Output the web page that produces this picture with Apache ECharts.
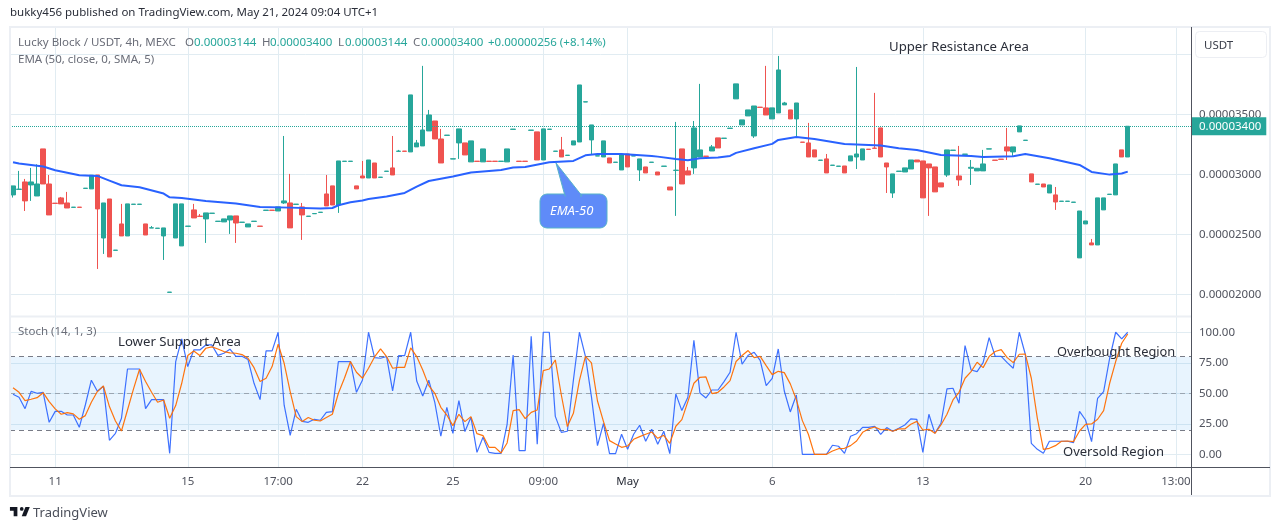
<!DOCTYPE html>
<html lang="en">
<head>
<meta charset="UTF-8">
<title>Lucky Block / USDT</title>
<script src="https://cdn.jsdelivr.net/npm/echarts@6/dist/echarts.min.js"></script>
<style>
	html, body { margin: 0; padding: 0; background: #fff; }
	#chart { width: 1281px; height: 530px; }
</style>
</head>
<body>
<div id="chart"></div>
<script type="text/javascript">
// prices are in units of 0.00000001 USDT
var opens = [
	2828,2874,2936,2911,2819,3211,2919,2759,2803,2761, 2724,2726,2882,2878,2994,2469,2794,2366,2586,2486,
	2749,2749,2586,2552,2549,2486,2016,2469,2403,2566, 2703,2651,2628,2674,2607,2603,2619,2653,2599,2561,
	2607,2568,2699,2701,2694,2761,2761,2749,2728,2649, 2671,2682,2836,2903,2744,3107,3107,2903,2986,2969,
	3094,2974,3024,3053,3191,3193,3186,3228,3236,3361, 3444,3294,3324,3127,3261,3261,3103,3109,3103,3109,
	3109,3107,3103,3374,3109,3109,3366,3353,3119,3374, 3191,3203,3157,3244,3269,3602,3286,3152,3144,3136,
	3099,3036,3169,3152,3036,3061,3099,3019,3066,2894, 3032,3211,3028,3053,3144,3151,3194,3303,3299,3382,
	3628,3411,3486,3319,3559,3553,3461,3511,3578,3536, 3461,3268,3261,3203,3116,3128,3074,3066,3069,3111,
	3144,3119,3209,3218,3386,3094,2844,3024,3019,3044, 3119,3111,3086,3061,2928,2994,3199,2986,3166,3050,
	3028,3028,3210,3118,3126,3228,3186,3353,3282,3003, 2916,2919,2844,2828,2774,2774,2766,2303,2586,2428,
	2411,2703,2832,2828,3203,3144
];
var closes = [
	2903,2876,2778,2936,2919,2919,2661,2757,2753,2719, 2726,2724,2884,2992,2711,2761,2311,2368,2486,2753,
	2751,2751,2494,2554,2551,2553,2018,2753,2753,2568, 2636,2649,2678,2676,2609,2628,2653,2594,2601,2586,
	2609,2566,2701,2699,2728,2778,2553,2751,2661,2651, 2673,2684,2736,2744,3111,3109,3109,2878,2969,3119,
	2969,2976,3026,2994,3193,3191,3661,3261,3369,3494, 3294,3094,3326,3129,3378,3161,3278,3107,3211,3107,
	3107,3109,3211,3376,3107,3107,3368,3119,3378,3376, 3193,3144,3159,3278,3744,3604,3411,3154,3278,3094,
	3101,3161,3061,3154,3128,3011,3101,2994,3068,2869, 3034,2919,2994,3386,3203,3149,3228,3219,3301,3384,
	3753,3453,3536,3569,3557,3494,3553,3869,3594,3461, 3594,3266,3144,3144,3118,3011,3076,3068,3011,3153,
	3169,3211,3207,3216,3144,3061,3003,3026,3053,3119, 3103,2803,3053,2853,2894,3203,3201,2953,3168,3058,
	3050,3086,3212,3116,3124,3194,3228,3403,3284,2936, 2918,2894,2911,2769,2776,2776,2768,2694,2611,2411,
	2803,2803,2834,3086,3144,3400
];
var lows = [
	2806,2874,2694,2778,2819,2919,2661,2757,2753,2719, 2724,2724,2882,2878,2211,2336,2311,2366,2486,2486,
	2749,2749,2494,2552,2549,2286,2016,2469,2403,2566, 2636,2649,2428,2674,2607,2603,2503,2428,2599,2561,
	2607,2566,2699,2699,2694,2753,2553,2749,2453,2649, 2671,2682,2736,2744,2678,3107,3107,2878,2969,2969,
	2969,2974,3024,2994,3191,3191,3186,3228,3236,3361, 3294,3094,3324,3127,3128,3161,3103,3107,3103,3107,
	3107,3107,3103,3374,3107,3107,3366,3119,3119,3374, 3191,3144,3157,3244,3269,3602,3161,3152,3144,3094,
	3099,3036,3061,3152,2944,3011,3099,2994,3066,2869, 2653,2919,2994,3003,3144,3149,3194,3219,3299,3382,
	3628,3411,3486,3303,3557,3494,3461,3511,3578,3461, 3311,3266,3144,3144,3116,3011,3074,3066,3011,3111,
	3044,3119,3207,3216,3144,2844,2803,3024,3019,3044, 3103,2803,2653,2853,2894,2978,3199,2903,3166,2911,
	3028,3028,3210,3116,3124,3119,3153,3353,3282,2936, 2916,2894,2844,2703,2774,2774,2766,2303,2586,2411,
	2411,2703,2832,2828,3144,3144
];
var highs = [
	2903,3028,2961,3053,3083,3211,2994,2759,2811,2853, 2726,2726,2884,2992,2994,2761,2794,2368,2753,2753,
	2751,2751,2586,2569,2551,2553,2018,2753,2753,2568, 2753,2669,2678,2676,2609,2628,2653,2653,2601,2586,
	2609,2568,2701,2701,2728,3319,3003,2751,2761,2651, 2673,2684,2994,2903,3111,3109,3109,2903,3111,3119,
	3094,2976,3026,3319,3203,3193,3661,3286,3903,3536, 3444,3378,3326,3129,3378,3261,3278,3109,3211,3109,
	3109,3109,3211,3376,3109,3109,3368,3353,3378,3376, 3193,3311,3159,3278,3744,3604,3411,3154,3278,3136,
	3101,3161,3169,3154,3128,3061,3101,3019,3068,2894, 3436,3211,3061,3444,3753,3151,3244,3303,3301,3384,
	3753,3453,3536,3569,3559,3903,3553,3986,3603,3536, 3594,3268,3428,3203,3118,3169,3076,3068,3069,3153,
	3894,3211,3209,3678,3386,3094,3003,3026,3053,3119, 3119,3111,3086,3061,2928,3203,3201,3236,3168,3119,
	3050,3203,3212,3118,3126,3386,3228,3403,3284,3003, 2918,2919,2911,2894,2776,2776,2768,2694,2611,2461,
	2803,2803,2834,3086,3203,3400
];
var emaIndex = [0,1,3,5,7,11,14,16,18,21,25,26,28,32,37,41,46,51,53,54,56,58,59,62,65,67,69,73,76,81,83,85,89,93,95,97,101,106,107,110,112,114,117,119,120,123,126,127,130,133,138,144,147,150,154,159,161,166,168,172,177,179,182,184,185];
var emaValues = [3100,3089,3078,3064,3033,2992,2986,2947,2908,2892,2839,2808,2803,2778,2756,2728,2722,2714,2719,2742,2767,2781,2794,2814,2844,2897,2944,2981,3014,3036,3056,3061,3100,3111,3158,3169,3169,3153,3147,3128,3117,3133,3139,3153,3178,3217,3253,3286,3311,3294,3253,3239,3217,3203,3161,3153,3144,3150,3169,3133,3078,3019,2997,3006,3022];
var stochK = [
	49.2,46.7,37.4,51.6,50,50.8,26.2,35.2,35.2,32.2, 32.2,22.1,40.4,60.7,51.6,55.7,11.5,17.2,29.5,69.9,
	69.9,69.9,37.4,44.8,44.8,44.8,0.8,76,94.5,71.9, 85.5,85.5,89.6,89.6,81.1,82.8,86.1,80.3,80.3,77.6,
	58.2,44.8,84.7,84.7,100,40.2,15.6,36.9,27,26.2, 28.7,27.9,34.4,35,76,76,76,50.8,60.9,100,
	79.2,78.7,80.1,51.9,80.9,80.9,100,60.1,47.8,60.7, 42.6,14.8,38.5,17.2,44,18.6,30.3,1.6,13.9,1.6,
	0.8,0.8,24.6,81.4,3,3,96.7,8.2,100,100, 31.1,18,18.9,60.7,100,80.3,47,7.1,25.4,0.5,
	0.5,16.4,4.1,16.4,23.8,10.7,20.5,8.2,18.9,0.5, 49.5,35.8,46.7,93.4,50.3,46.2,52.7,52.7,59.6,67.2,
	100,73.8,81.1,83.6,77,56.3,62.3,86.3,51.9,34.7, 48.6,0,0,0,0,0,7.4,6.6,0.8,14.8,
	16.9,22.1,22.1,23,16.4,21.9,18.9,21.3,24,29, 28.7,1.6,32.8,17.2,25.4,53.6,54.1,41.8,89.1,69.1,
	67.8,75.1,95.6,80.3,80.3,75.1,70.5,100,82,9, 4.1,0.8,10.7,10.7,10.7,10.7,9.6,35.2,28.1,10.4,
	45.9,51.4,78.7,100,94.5,100
];
var stochD = [
	54.6,50.8,44,45.1,46.4,50.5,43.2,37.2,32.8,34.2, 33.1,28.7,31.7,42.6,51.4,56,39.1,27.3,19.1,36.3,
	53.6,69.7,59.6,50.8,42.6,44.5,29.5,39.9,58.2,80.9, 84.7,80.9,86.9,88,86.3,84.2,83.1,82.8,81.7,78.7,
	71,59.6,62.3,71.9,90.2,74.6,51.4,30.9,26.8,30.1, 27.9,27.3,30.1,32.8,50,62.3,76,67.2,62.3,70.5,
	79.8,86.3,80.1,70.5,71.3,71.3,87.2,80.1,69.1,56.3, 50,38.5,32.2,23.5,32.8,26.8,30.9,16.9,15.3,5.7,
	5.7,1.1,9.3,35.8,36.6,29.2,34.4,36.3,68.6,69.9, 77.3,48.6,22.7,33.6,60.4,80.3,74.9,43.7,26.8,11.2,
	8.5,5.7,6.8,12.3,14.5,16.4,18.3,13.1,15.6,9, 23,28.4,43.2,58.2,63.1,63.4,49.7,50.8,55.2,60.4,
	76,80.9,85,79.2,80.3,72.7,65.3,68,66.9,57.7, 44.8,27.6,16.4,0,0,0,2.7,4.6,4.9,7.1,
	10.9,18,20.8,22.4,20.2,20.5,18.9,20.8,20.8,24.6, 27,19.9,20.5,17.2,24,32.8,44.5,50.8,62.3,67.8,
	75.4,71,80.1,84.2,85.8,79.2,75.1,82,82.2,62.3, 29.5,4.1,4.9,7.1,10.7,10.9,10.4,19.1,24.6,24.9,
	28.7,35.8,58.2,76,91,98.6
];
var timeTicks = ['11', '15', '17:00', '22', '25', '09:00', 'May', '6', '13', '20', '13:00'];
var timeTickIndex = [7, 29, 44, 58, 73, 88, 102, 126, 151, 178, 193];
var priceTicks = [2000, 2500, 3000, 3500, 4000];
var stochTicks = [0, 25, 50, 75, 100];
var stochLevels = [80, 50, 20];
var lastPrice = 3400;
var barSlots = 196;

var UP = '#26a69a', DOWN = '#ef5350', GRID = '#e1ecf2', FRAME = '#eceff4', AXIS = '#50535e';
var FONT = '"Noto Sans", sans-serif';

var categories = [];
for (var i = 0; i < barSlots; i++) {
	categories.push(String(i));
}
var candles = [];
for (var j = 0; j < opens.length; j++) {
	candles.push([opens[j], closes[j], lows[j], highs[j]]);
}
var emaData = [];
for (var e = 0; e < emaIndex.length; e++) {
	emaData.push([emaIndex[e], emaValues[e]]);
}

function isTimeTick(idx) {
	return timeTickIndex.indexOf(idx) >= 0;
}
function priceLabel(v) {
	return (v / 1e8).toFixed(8);
}

var xAxisBase = {
	type: 'category',
	data: categories,
	axisLine: { show: false },
	axisTick: { show: false },
	splitLine: { show: true, alignWithLabel: true, interval: isTimeTick, lineStyle: { color: GRID, width: 1 } }
};

// legend row above the candles
var headerItems = [
	{ text: 'Lucky Block / USDT, 4h, MEXC', x: 18, color: '#6a6d78' },
	{ text: 'O', x: 185, color: '#6a6d78' }, { text: '0.00003144', x: 194, color: UP },
	{ text: 'H', x: 262, color: '#6a6d78' }, { text: '0.00003400', x: 270, color: UP },
	{ text: 'L', x: 338, color: '#6a6d78' }, { text: '0.00003144', x: 345, color: UP },
	{ text: 'C', x: 413, color: '#6a6d78' }, { text: '0.00003400', x: 421, color: UP },
	{ text: '+0.00000256 (+8.14%)', x: 488, color: UP }
];
var graphics = [];
function addText(text, x, y, size, color, extra) {
	var style = { text: text, x: x, y: y, fill: color, font: size + 'px ' + FONT, textVerticalAlign: 'middle' };
	for (var k in (extra || {})) {
		style[k] = extra[k];
	}
	graphics.push({ type: 'text', silent: true, z: 20, style: style });
}
function addLine(x1, y1, x2, y2, color, width) {
	graphics.push({ type: 'line', silent: true, z: 15, shape: { x1: x1, y1: y1, x2: x2, y2: y2 }, style: { stroke: color, lineWidth: width } });
}
headerItems.forEach(function (it) {
	addText(it.text, it.x, 43, 11.5, it.color);
});
addText('bukky456 published on TradingView.com, May 21, 2024 09:04 UTC+1', 10, 13, 11.5, '#2a2e39');
addText('EMA (50, close, 0, SMA, 5)', 18, 60, 11.5, '#6a6d78');
addText('Stoch (14, 1, 3)', 18, 332, 11.5, '#6a6d78');
addText('Upper Resistance Area', 889, 47, 13.2, '#2a2e39');
addText('Lower Support Area', 118, 342, 13.2, '#2a2e39');
addText('Overbought Region', 1057, 352, 12.8, '#2a2e39');
addText('Oversold Region', 1063, 452, 13, '#2a2e39');
addText('TradingView', 33, 513, 13, '#4a4e59');

// frame, pane separator and scale lines
graphics.push({ type: 'rect', silent: true, z: 14, shape: { x: 10, y: 27, width: 1260, height: 469 }, style: { fill: 'none', stroke: FRAME, lineWidth: 2 } });
addLine(10, 316.5, 1191, 316.5, FRAME, 2);
addLine(1191.5, 27, 1191.5, 495, AXIS, 1);
addLine(10, 467.5, 1270, 467.5, AXIS, 1);

// USDT button
graphics.push({ type: 'rect', silent: true, z: 15, shape: { x: 1195.5, y: 31.5, width: 71, height: 26, r: 4 }, style: { fill: '#fff', stroke: '#eceef3', lineWidth: 1 } });
addText('USDT', 1204, 46, 11.5, '#3a3e4a');

// EMA-50 callout
var calloutFill = '#5f8bf8', calloutEdge = '#56b3c9';
graphics.push({ type: 'rect', silent: true, z: 16, shape: { x: 540, y: 194, width: 67, height: 34, r: 7 }, style: { fill: calloutFill, stroke: calloutEdge, lineWidth: 1 } });
graphics.push({ type: 'polygon', silent: true, z: 16, shape: { points: [[565, 196], [556, 163], [582, 196]] }, style: { fill: calloutFill, stroke: calloutEdge, lineWidth: 1 } });
graphics.push({ type: 'rect', silent: true, z: 16, shape: { x: 566, y: 193, width: 14, height: 5 }, style: { fill: calloutFill } });
addText('EMA-50', 550, 211, 13, '#fff', { font: 'italic 13px ' + FONT });

// TradingView logo
graphics.push({
	type: 'group', silent: true, z: 16, x: 8.7, y: 503.3, scaleX: 0.62, scaleY: 0.62,
	children: [
		{ type: 'polygon', z: 16, shape: { points: [[2, 6], [14, 6], [14, 21], [8, 21], [8, 12], [2, 12]] }, style: { fill: '#131722' } },
		{ type: 'polygon', z: 16, shape: { points: [[21, 21], [28, 21], [34, 6], [27, 6]] }, style: { fill: '#131722' } },
		{ type: 'circle', z: 16, shape: { cx: 21, cy: 9, r: 3 }, style: { fill: '#131722' } }
	]
});

var myChart = echarts.init(document.getElementById('chart'), null, { renderer: 'canvas' });
var option = {
	animation: false,
	backgroundColor: '#fff',
	textStyle: { fontFamily: FONT },
	graphic: graphics,
	grid: [
		{ left: 10, top: 27, width: 1181, height: 289 },
		{ left: 10, top: 317, width: 1181, height: 150 }
	],
	xAxis: [
		Object.assign({}, xAxisBase, { gridIndex: 0, axisLabel: { show: false } }),
		Object.assign({}, xAxisBase, {
			gridIndex: 1,
			axisLabel: {
				show: true,
				margin: 9,
				interval: isTimeTick,
				color: AXIS,
				fontSize: 11.5,
				fontFamily: FONT,
				hideOverlap: false,
				formatter: function (value) {
					var label = timeTicks[timeTickIndex.indexOf(Number(value))];
					return label === 'May' ? '{b|May}' : label;
				},
				rich: { b: { fontSize: 11.5, color: '#2a2e39', fontFamily: FONT } }
			}
		})
	],
	yAxis: [
		{
			type: 'value', gridIndex: 0, position: 'right', min: 1819, max: 4227,
			axisLine: { show: false },
			axisTick: { show: false, customValues: priceTicks },
			splitLine: { show: true, lineStyle: { color: GRID, width: 1 } },
			axisLabel: { customValues: priceTicks, margin: 8, padding: [2, 0, 0, 0], color: AXIS, fontSize: 11.5, fontFamily: FONT, formatter: priceLabel }
		},
		{
			type: 'value', gridIndex: 1, position: 'right', min: -10.4, max: 112.5,
			axisLine: { show: false },
			axisTick: { show: false, customValues: stochTicks },
			splitLine: { show: true, lineStyle: { color: GRID, width: 1 } },
			axisLabel: { customValues: stochTicks, margin: 8, padding: [2, 0, 0, 0], color: AXIS, fontSize: 11.5, fontFamily: FONT, formatter: function (v) { return v.toFixed(2); } }
		}
	],
	series: [
		{
			name: 'Lucky Block / USDT',
			type: 'candlestick',
			xAxisIndex: 0,
			yAxisIndex: 0,
			barWidth: 5,
			data: candles,
			itemStyle: { color: UP, color0: DOWN, borderColor: UP, borderColor0: DOWN, borderWidth: 1 },
			markLine: {
				silent: true,
				symbol: 'none',
				lineStyle: { color: UP, type: 'dotted', width: 1 },
				label: {
					position: 'end',
					distance: 0,
					formatter: function () { return priceLabel(lastPrice); },
					color: '#fff',
					fontSize: 11.5,
					fontFamily: FONT,
					backgroundColor: UP,
					padding: [3, 5, 3, 8]
				},
				data: [{ yAxis: lastPrice }]
			}
		},
		{
			name: 'EMA',
			type: 'line',
			xAxisIndex: 0,
			yAxisIndex: 0,
			z: 5,
			symbol: 'none',
			lineStyle: { color: '#2962ff', width: 2 },
			data: emaData
		},
		{
			name: '%K',
			type: 'line',
			xAxisIndex: 1,
			yAxisIndex: 1,
			z: 5,
			symbol: 'none',
			lineStyle: { color: '#2962ff', width: 1.2, opacity: 0.9 },
			data: stochK,
			markArea: {
				silent: true,
				itemStyle: { color: 'rgba(33,150,243,0.1)' },
				data: [[{ yAxis: stochLevels[2] }, { yAxis: stochLevels[0] }]]
			},
			markLine: {
				silent: true,
				symbol: 'none',
				label: { show: false },
				lineStyle: { color: '#787b86', type: [5, 4], width: 1 },
				data: stochLevels.map(function (v) {
					return v === 50 ? { yAxis: v, lineStyle: { opacity: 0.6 } } : { yAxis: v };
				})
			}
		},
		{
			name: '%D',
			type: 'line',
			xAxisIndex: 1,
			yAxisIndex: 1,
			z: 6,
			symbol: 'none',
			lineStyle: { color: '#ff6d00', width: 1.2, opacity: 0.95 },
			data: stochD
		}
	]
};
myChart.setOption(option);
</script>
</body>
</html>
